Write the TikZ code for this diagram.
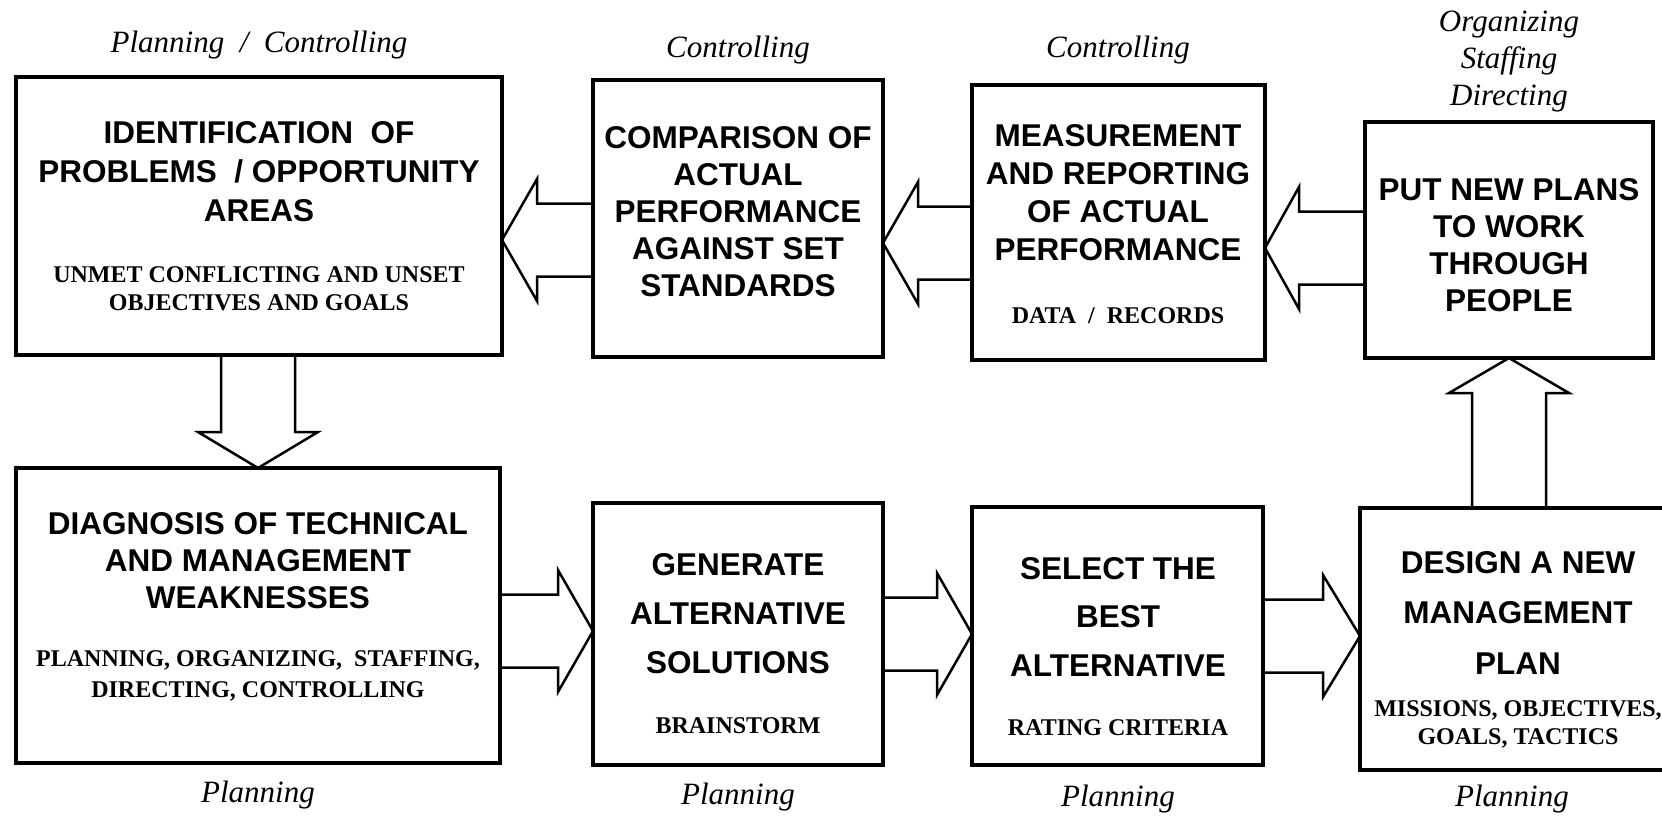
\documentclass[tikz,border=0pt]{standalone}
\usepackage{fontspec}
\setmainfont{Liberation Serif}
\newfontfamily\helv{Liberation Sans}
\usetikzlibrary{calc}
% horizontal block arrow: #1 tip, #2 tail point (x used), #3 signed head length
\newcommand\blockH[3]{%
  \draw[barrow] let \p1=(#1), \p2=(#2) in
    (\x2,\y1+36.5pt) -- (\x1+#3,\y1+36.5pt) -- (\x1+#3,\y1+61pt) -- (\x1,\y1)
    -- (\x1+#3,\y1-61pt) -- (\x1+#3,\y1-36.5pt) -- (\x2,\y1-36.5pt);}
% vertical block arrow: #1 tip, #2 tail point (y used), #3 signed head length
\newcommand\blockV[3]{%
  \draw[barrow] let \p1=(#1), \p2=(#2) in
    (\x1+37pt,\y2) -- (\x1+37pt,\y1+#3) -- (\x1+60pt,\y1+#3) -- (\x1,\y1)
    -- (\x1-60pt,\y1+#3) -- (\x1-37pt,\y1+#3) -- (\x1-37pt,\y2);}
\begin{document}
\begin{tikzpicture}[x=1pt,y=-1pt,
  box/.style={draw, line width=3.2pt, rectangle, inner sep=0pt, outer sep=0pt, anchor=north west},
  barrow/.style={draw, line width=2.5pt, line join=miter},
  title/.style={font=\helv\bfseries\fontsize{31.5}{#1}\selectfont, align=center, anchor=north, inner sep=0pt},
  title/.default=37,
  sub/.style={font=\bfseries\fontsize{24}{#1}\selectfont, align=center, anchor=north, inner sep=0pt},
  sub/.default=28,
  lab/.style={font=\itshape\fontsize{31}{37}\selectfont, anchor=base, inner sep=0pt}]
\useasboundingbox (0,0) rectangle (1662,819);
\fill[white] (0,0) rectangle (1662,819);

% boxes
\node[box, minimum width=486pt, minimum height=278pt] (idf) at (16,77) {};
\node[box, minimum width=290pt, minimum height=277pt] (cmp) at (593,80) {};
\node[box, minimum width=293pt, minimum height=275pt] (msr) at (972,85) {};
\node[box, minimum width=288pt, minimum height=236pt] (put) at (1365,122) {};
\node[box, minimum width=484pt, minimum height=295pt] (dgn) at (16,468) {};
\node[box, minimum width=290pt, minimum height=262pt] (gen) at (593,503) {};
\node[box, minimum width=291pt, minimum height=258pt] (sel) at (972,507) {};
\node[box, minimum width=315pt, minimum height=262pt] (dsn) at (1360,508) {};

% box texts
\node[title=39] (t-idf) at (259,121) {IDENTIFICATION\ \ OF\\PROBLEMS\ \ / OPPORTUNITY\\AREAS};
\node[sub] (s-idf) at (259,266) {UNMET CONFLICTING AND UNSET\\OBJECTIVES AND GOALS};
\node[title] (t-cmp) at (738,126) {COMPARISON OF\\ACTUAL\\PERFORMANCE\\AGAINST SET\\STANDARDS};
\node[title=38] (t-msr) at (1118,124) {MEASUREMENT\\AND REPORTING\\OF ACTUAL\\PERFORMANCE};
\node[sub] (s-msr) at (1118,307) {DATA\ \ /\ \ RECORDS};
\node[title] (t-put) at (1509,178) {PUT NEW PLANS\\TO WORK\\THROUGH\\PEOPLE};
\node[title] (t-dgn) at (258,512) {DIAGNOSIS OF TECHNICAL\\AND MANAGEMENT\\WEAKNESSES};
\node[sub=31] (s-dgn) at (258,650) {PLANNING, ORGANIZING,\ \ STAFFING,\\DIRECTING, CONTROLLING};
\node[title=49] (t-gen) at (738,553) {GENERATE\\ALTERNATIVE\\SOLUTIONS};
\node[sub] (s-gen) at (738,717) {BRAINSTORM};
\node[title=48.5] (t-sel) at (1118,557) {SELECT THE\\BEST\\ALTERNATIVE};
\node[sub] (s-sel) at (1118,719) {RATING CRITERIA};
\node[title=50.5] (t-dsn) at (1518,551) {DESIGN A NEW\\MANAGEMENT\\PLAN};
\node[sub] (s-dsn) at (1518,700) {MISSIONS, OBJECTIVES,\\GOALS, TACTICS};

% function labels
\node[lab] (l-idf) at (259,52) {Planning\ \ /\ \ Controlling};
\node[lab] (l-cmp) at (738,57) {Controlling};
\node[lab] (l-msr) at (1118,57) {Controlling};
\node[font=\itshape\fontsize{31}{37}\selectfont, align=center, anchor=north, inner sep=0pt] (l-put) at (1509,11) {Organizing\\Staffing\\Directing};
\node[lab] (l-dgn) at (258,802) {Planning};
\node[lab] (l-gen) at (738,804) {Planning};
\node[lab] (l-sel) at (1118,806) {Planning};
\node[lab] (l-dsn) at (1512,806) {Planning};

% block arrows
\coordinate (a1) at ([yshift=-24pt]idf.east);
\blockH{a1}{cmp.west}{35pt}
\coordinate (a2) at ([yshift=-24.5pt]cmp.east);
\blockH{a2}{msr.west}{35pt}
\coordinate (a3) at ([yshift=-25.5pt]msr.east);
\blockH{a3}{put.west}{34pt}
\coordinate (a4) at ([yshift=3pt]gen.west);
\blockH{a4}{dgn.east}{-35pt}
\coordinate (a5) at ([yshift=2pt]sel.west);
\blockH{a5}{gen.east}{-35pt}
\coordinate (a6) at ([yshift=3pt]dsn.west);
\blockH{a6}{sel.east}{-37pt}
\blockV{dgn.north}{idf.south}{36pt}
\blockV{put.south}{dsn.north}{-35pt}
\end{tikzpicture}
\end{document}
